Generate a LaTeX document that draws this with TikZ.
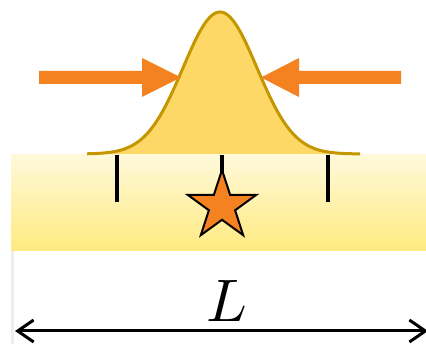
\documentclass[tikz,border=0pt]{standalone}
\usepackage{tikz}
\usetikzlibrary{arrows.meta,calc}
\definecolor{orangeA}{HTML}{F58220}
\definecolor{gaussfill}{HTML}{FDD866}
\definecolor{gaussline}{HTML}{C49600}
\definecolor{bandtop}{HTML}{FFF9DA}
\definecolor{bandbot}{HTML}{FFEA80}
\definecolor{edgegray}{HTML}{EEEEEE}
\tikzset{
  tick/.style={line width=3.6pt, black},
  pusharrow/.style={fill=orangeA, draw=none},
  dimline/.style={line width=3pt, {Straight Barb[length=16pt,width=22pt]}-{Straight Barb[length=16pt,width=22pt]}},
}
\begin{document}
\begin{tikzpicture}[x=1pt,y=-1pt]
\useasboundingbox (0,0) rectangle (426,344);
\clip (0,0) rectangle (426,344);
% band
\shade[top color=bandtop, bottom color=bandbot] (11,155) rectangle (426,251);
\draw[edgegray, line width=2.5pt] (12.5,251) -- (12.5,344);
% ticks
\draw[tick] (117,155) -- (117,202);
\draw[tick] (222,155) -- (222,202);
\draw[tick] (328,155) -- (328,202);
% gaussian
\fill[gaussfill] plot[domain=87:360, samples=140] (\x, {154 - 142*exp(-0.5*((\x-220)/37)^2)}) -- cycle;
\draw[gaussline, line width=3pt, line join=round] plot[domain=87:360, samples=140] (\x, {154 - 142*exp(-0.5*((\x-220)/37)^2)});
% star
\coordinate (sc) at (222,206);
\draw[fill=orangeA, line width=2pt, line join=miter]
  ($(sc)+(0,-36)$)
  \foreach \k in {0,...,4} { -- ($(sc)+({sin(\k*72)*36},{-cos(\k*72)*36})$) -- ($(sc)+({sin(\k*72+36)*13.8},{-cos(\k*72+36)*13.8})$) } -- cycle;
% push arrows
\fill[pusharrow] (39,71) -- (142,71) -- (142,58) -- (181,77.5) -- (142,97) -- (142,84) -- (39,84) -- cycle;
\fill[pusharrow] (401,71) -- (299,71) -- (299,58) -- (261,77.5) -- (299,97) -- (299,84) -- (401,84) -- cycle;
% dimension
\coordinate (dl) at (15,331);
\coordinate (dr) at (428,331);
\draw[dimline] (dl) -- (dr);
\node[scale=6] (Llabel) at (227,301) {$L$};
\end{tikzpicture}
\end{document}
